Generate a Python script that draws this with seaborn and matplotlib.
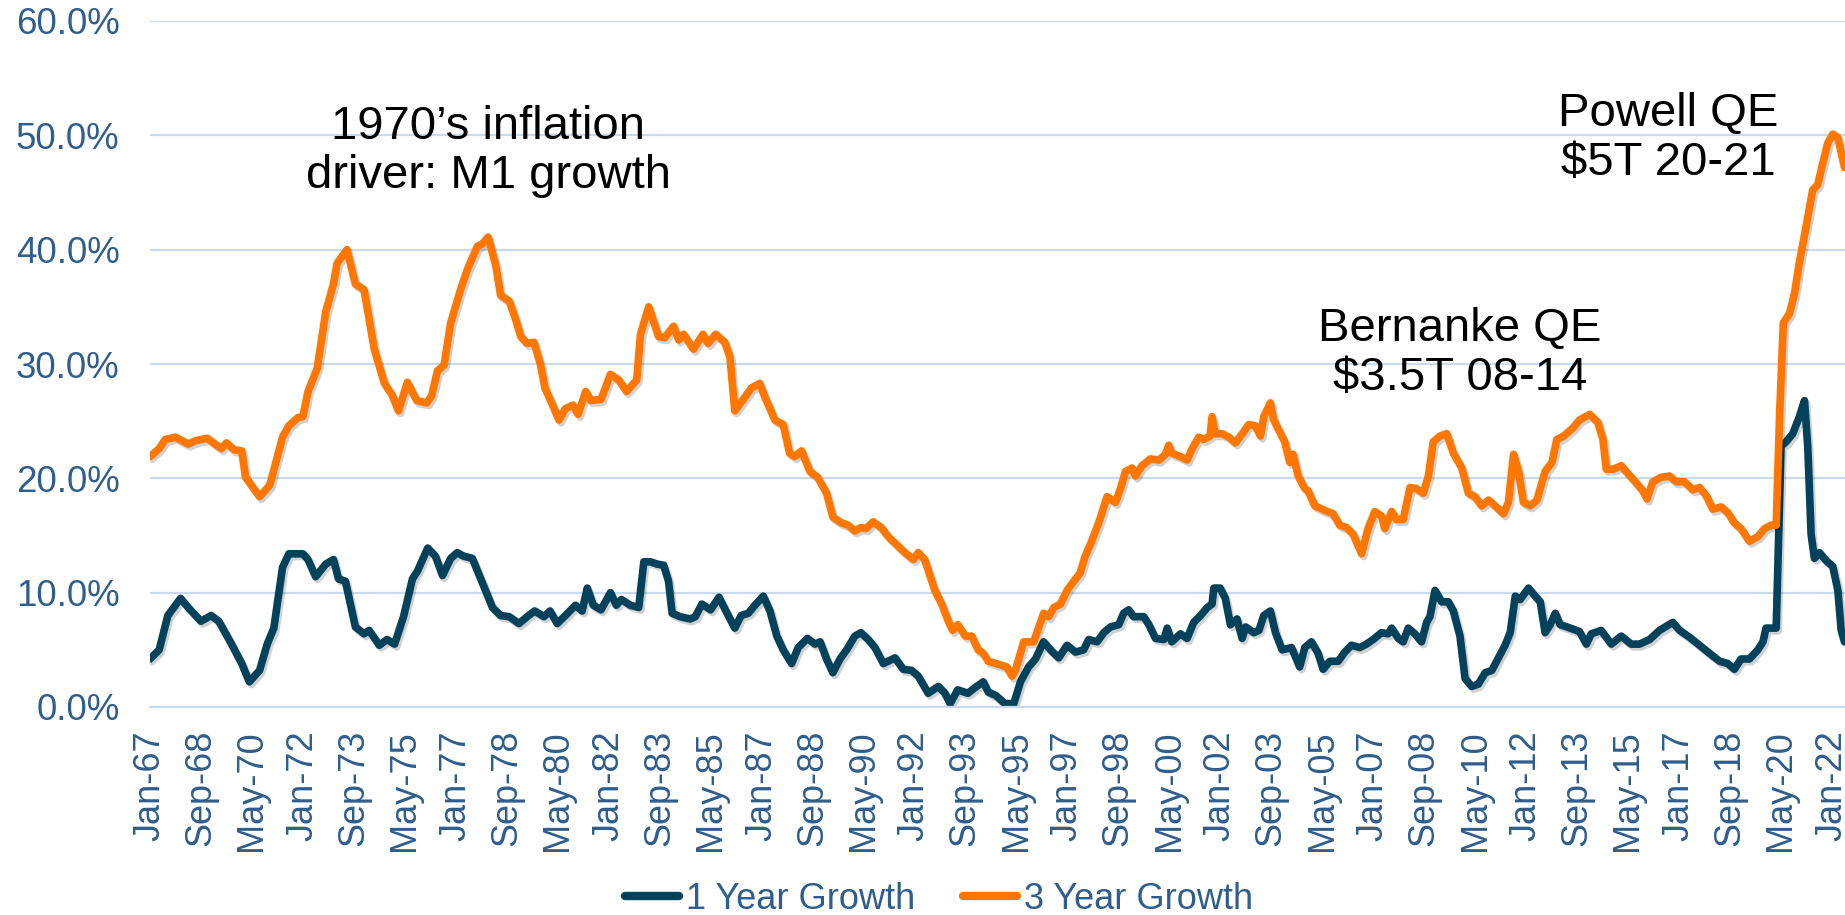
import matplotlib
matplotlib.use('Agg')
import matplotlib.pyplot as plt
import matplotlib.patheffects as pe
from matplotlib.ticker import FuncFormatter
import seaborn as sns

# months since Jan-67 and M1 growth (%)
months_1y = [0, 3.6, 7, 12, 15, 20, 24, 27, 32, 36, 39, 43, 46, 48.6, 52, 54.5, 60, 62, 65, 69, 72, 74, 76.7, 80.6, 84, 86, 90, 93, 96, 99.5, 103, 105, 109,
             112, 114.8, 118, 120.6, 123, 126.5, 129.8, 134.4, 137.6, 141, 144.8, 148, 151, 154.6, 157, 159.8, 163, 167, 169.6, 171.6, 174, 177, 180.7, 183, 185, 188.5, 191.8, 193.8, 196.4, 199, 201.6, 203.5, 204.9, 208, 212, 214, 216.6, 220,
             223.3, 226, 229.5, 232, 234.8, 237.4, 240.7, 243.3, 246, 248.5, 251.8, 254.4, 258, 261, 263, 265.5, 268, 270.8, 273.4, 276.6, 279, 281.9, 284.5, 287.8, 292.4, 295.6, 298.9, 301.5, 305.4, 309.4, 312, 314, 317, 321, 323.8, 327, 329, 332, 335.5,
             339, 341.6, 344.8, 347.5, 350.7, 353.4, 356.6, 359.9, 363.2, 366.4, 368.4, 371.7, 374.3, 376.9, 380.2, 382.1, 384.1, 386, 390, 392, 394.6, 397.9, 399.2, 401, 404.4, 407, 409.6, 412.3, 414.9, 416.8, 417.5, 420, 422, 424, 426.6, 428.6, 430, 433.2, 435.2, 437.1, 439.7, 441.7, 444.3,
             448, 451.2, 453.2, 455.8, 458.4, 460.4, 463, 466.3, 468.9, 471.5, 474.8, 477.4, 480, 483.3, 485.9, 487.3, 489.9, 491.8, 493.8, 496.4, 499, 501, 502.3, 504.3, 506.9, 509.5, 511.5, 514.1, 516.1, 518.7, 521.3, 524, 526.6, 529.2, 531.8, 533.8, 535.8, 537.7, 541, 543.6, 545.6, 547.5, 549.5, 551.5, 553.4, 556.1,
             561, 563.7, 565.6, 569.5, 573.5, 577.4, 581.3, 584.6, 588.5, 592.4, 597.6, 600.3, 604.2, 608.1, 612, 616, 619.2, 621.8, 624.4, 627.7, 631, 633, 634.2, 638.2, 640.1, 642.1, 644.7, 647.3, 649.3, 650.6, 651.9, 653.2, 655.2, 657.8, 660.4, 662.4, 663.7, 665]
growth_1y = [4.2, 5.0, 8.0, 9.5, 8.7, 7.5, 8.0, 7.5, 5.5, 3.8, 2.2, 3.2, 5.5, 6.9, 12.2, 13.4, 13.4, 12.9, 11.4, 12.5, 12.9, 11.2, 11.0, 7.0, 6.4, 6.7, 5.4, 5.9, 5.5, 7.9, 11.2, 11.9, 13.9,
             13.2, 11.5, 13.0, 13.5, 13.2, 13.0, 11.2, 8.7, 8.0, 7.9, 7.3, 7.9, 8.4, 7.9, 8.4, 7.3, 8.0, 8.9, 8.4, 10.4, 8.9, 8.5, 10.0, 8.9, 9.4, 8.9, 8.7, 12.7, 12.7, 12.5, 12.4, 11.0, 8.2, 7.9, 7.7, 7.9, 9.0, 8.5,
             9.6, 8.4, 6.9, 8.0, 8.2, 8.9, 9.7, 8.4, 6.2, 5.0, 3.8, 5.2, 6.0, 5.5, 5.7, 4.2, 3.0, 4.2, 5.0, 6.2, 6.5, 5.9, 5.2, 3.8, 4.3, 3.3, 3.2, 2.7, 1.2, 1.8, 1.2, 0.3, 1.5, 1.2, 1.7, 2.2, 1.3, 1.0, 0.3,
             0.3, 2.2, 3.5, 4.2, 5.7, 5.0, 4.3, 5.4, 4.8, 5.0, 5.9, 5.7, 6.5, 7.0, 7.2, 8.2, 8.5, 7.9, 7.9, 7.2, 6.0, 5.9, 6.9, 5.7, 6.4, 6.0, 7.4, 8.0, 8.7, 9.0, 10.4, 10.4, 9.5, 7.2, 7.7, 6.0, 7.0, 6.5, 6.7, 8.0, 8.4, 6.5, 5.0,
             5.2, 3.5, 5.2, 5.7, 4.7, 3.3, 4.0, 4.0, 4.8, 5.4, 5.2, 5.5, 5.9, 6.5, 6.4, 6.9, 6.0, 5.7, 6.9, 6.4, 5.7, 7.4, 7.9, 10.2, 9.2, 9.2, 8.4, 6.2, 2.5, 1.8, 2.0, 3.0, 3.2, 4.3, 5.4, 6.5, 9.7, 9.4, 10.4, 9.7, 9.2, 6.5, 7.2, 8.2, 7.2, 7.0,
             6.6, 5.5, 6.4, 6.7, 5.5, 6.2, 5.5, 5.5, 5.9, 6.7, 7.4, 6.7, 6.1, 5.4, 4.7, 4.0, 3.8, 3.3, 4.2, 4.2, 5.0, 5.7, 6.9, 6.9, 22.8, 23.2, 23.9, 25.4, 26.8, 22.7, 15.1, 13.0, 13.5, 12.8, 12.3, 10.2, 6.7, 5.7]

months_3y = [0, 3.6, 6, 10, 15, 18, 22.5, 28, 30, 33, 36, 37.5, 43, 47, 52, 54.5, 58, 60, 62, 65.6, 69, 72, 73.4, 77.3, 80.6, 84, 88, 92, 95, 97.5, 101, 104.7, 108.6, 110.5,
             112.8, 115.4, 118, 122, 124.6, 128.5, 130.4, 132.7, 135.7, 137.6, 141, 143.5, 145.5, 148, 150.7, 153.3, 155, 158, 160.5, 163, 166, 168, 171, 173, 177, 180.7, 184, 187, 191, 192.5, 195.7, 199.6, 202, 205.5, 207.5, 209.4, 213.3, 217, 219, 222,
             225.6, 227.6, 229.5, 232.8, 236, 239.3, 241.3, 243.3, 245.2, 248.5, 251, 253, 255.7, 259, 262, 265.5, 268, 271.4, 274, 276.6, 279, 281, 283.8, 287, 289.7, 293, 296.3, 299.6, 301.5, 304, 308, 310.7, 313.3, 315, 317, 320, 322.5, 325, 327, 329, 332,
             336.3, 338.3, 339.6, 342.9, 346.8, 350.7, 352.7, 354.7, 357.3, 359.9, 363.2, 365, 367, 369, 372.3, 375.6, 378.9, 381, 382.8, 385.4, 386.7, 389.3, 392.6, 396, 398.5, 399.8, 401, 404.4, 407, 409, 411.6, 413.6, 416, 416.8, 418, 420.8, 423.4, 426, 429.3, 431.2, 433.8, 435.8, 437.1, 439.7, 441, 443.7,
             445.3, 447.3, 448.6, 450.6, 453.2, 454.5, 457.1, 461, 464.3, 466.9, 469.6, 472.2, 475.5, 478, 480.7, 483.3, 484.6, 487.3, 489.2, 491.8, 494.5, 497, 499.7, 501.7, 503.6, 506.3, 508.9, 511.5, 514.8, 517.4, 520, 522.6, 525.3, 527.9, 531.2, 533.1, 535.1, 537.1, 539, 541.7, 544.3, 547.5, 550.2, 552.1, 554.8,
             558.4, 561, 565, 568.2, 570.2, 571.5, 574.1, 577.4, 579.3, 583.3, 585.9, 587.5, 589.8, 593.1, 596.3, 599, 602.2, 605.5, 608.1, 610.7, 613.3, 616.6, 619.2, 621.8, 624.4, 627.7, 631, 633.6, 636.2, 638.2, 639.5, 641, 643.4, 645.4, 647.3, 649.9, 652.5, 654.5, 656.5, 658.4, 660.4, 662.4, 665]
growth_3y = [21.9, 22.6, 23.4, 23.6, 23.0, 23.3, 23.5, 22.6, 23.1, 22.5, 22.4, 20.1, 18.4, 19.4, 23.6, 24.6, 25.3, 25.4, 27.6, 29.6, 34.6, 37.0, 38.8, 40.0, 37.0, 36.5, 31.3, 28.3, 27.3, 25.9, 28.4, 26.8, 26.6, 27.2,
             29.4, 29.9, 33.6, 36.6, 38.3, 40.3, 40.5, 41.1, 38.6, 36.0, 35.5, 33.9, 32.4, 31.8, 31.9, 29.9, 27.9, 26.4, 25.1, 26.1, 26.4, 25.6, 27.6, 26.8, 26.9, 29.1, 28.6, 27.6, 28.6, 32.6, 35.0, 32.4, 32.3, 33.3, 32.1, 32.6, 31.3, 32.6, 31.8, 32.6,
             31.9, 30.6, 25.9, 26.9, 27.9, 28.3, 27.1, 26.1, 25.1, 24.7, 22.2, 21.9, 22.4, 20.6, 20.1, 18.7, 16.6, 16.1, 15.9, 15.4, 15.7, 15.6, 16.2, 15.7, 14.9, 14.2, 13.5, 12.9, 13.5, 12.9, 10.2, 9.0, 7.5, 6.7, 7.2, 6.2, 6.2, 5.0, 4.7, 4.0, 3.8,
             3.5, 2.7, 3.2, 5.7, 5.7, 8.2, 7.9, 8.7, 9.0, 10.2, 11.2, 11.7, 13.2, 14.2, 16.1, 18.4, 17.9, 19.2, 20.6, 20.9, 20.2, 21.1, 21.7, 21.6, 22.1, 22.9, 22.2, 21.9, 21.6, 22.6, 23.6, 23.4, 23.7, 25.4, 23.9, 23.9, 23.6, 23.1, 24.1, 24.7, 24.6, 23.7, 25.4, 26.6, 25.1, 23.9,
             23.2, 21.4, 22.1, 20.2, 19.1, 18.9, 17.6, 17.2, 16.9, 15.9, 15.7, 15.1, 13.4, 15.6, 17.1, 16.7, 15.6, 17.1, 16.4, 16.4, 19.2, 19.1, 18.7, 20.2, 23.2, 23.7, 23.9, 22.2, 20.9, 18.7, 18.4, 17.6, 18.1, 17.6, 16.9, 17.9, 22.1, 20.6, 17.9, 17.6, 18.1, 20.6, 21.4, 23.4, 23.7,
             24.4, 25.1, 25.6, 24.9, 23.4, 20.8, 20.8, 21.1, 20.6, 19.6, 18.9, 18.2, 19.7, 20.1, 20.2, 19.7, 19.7, 19.0, 19.2, 18.5, 17.3, 17.5, 17.0, 16.1, 15.6, 14.5, 14.9, 15.6, 15.9, 15.9, 25.4, 33.6, 34.4, 36.2, 38.9, 42.0, 45.2, 45.7, 47.6, 49.3, 50.1, 49.8, 47.2]

tick_labels = ['Jan-67', 'Sep-68', 'May-70', 'Jan-72', 'Sep-73', 'May-75', 'Jan-77', 'Sep-78', 'May-80', 'Jan-82', 'Sep-83', 'May-85',
               'Jan-87', 'Sep-88', 'May-90', 'Jan-92', 'Sep-93', 'May-95', 'Jan-97', 'Sep-98', 'May-00', 'Jan-02', 'Sep-03', 'May-05',
               'Jan-07', 'Sep-08', 'May-10', 'Jan-12', 'Sep-13', 'May-15', 'Jan-17', 'Sep-18', 'May-20', 'Jan-22']

sns.set_style('white')
plt.rcParams['font.family'] = ['Liberation Sans', 'DejaVu Sans']

label_blue = '#2f5d8c' # axis text colour
grid_blue = '#c8daec'
teal, orange = '#03425a', '#ff7700'

fig = plt.figure(figsize=(18.45, 9.15), dpi=100)
ax = fig.add_axes([150/1845, 1-707/915, 1-150/1845, (707-21)/915])

shadow = [pe.SimpleLineShadow(offset=(1.5, -2), alpha=0.18, shadow_color='black'), pe.Normal()]
sns.lineplot(x=months_1y, y=growth_1y, ax=ax, color=teal, linewidth=5.5, estimator=None, label='1 Year Growth', path_effects=shadow)
sns.lineplot(x=months_3y, y=growth_3y, ax=ax, color=orange, linewidth=5.5, estimator=None, label='3 Year Growth', path_effects=shadow)

ax.set_xlim(0, 665.2)
ax.set_ylim(0, 60)
ax.set_yticks(range(0, 61, 10))
ax.yaxis.set_major_formatter(FuncFormatter(lambda v, _: f'{v:.1f}%'))
ax.set_xticks(range(0, 661, 20))
ax.set_xticklabels(tick_labels, rotation=90)
ax.tick_params(axis='y', length=0, pad=22, labelsize=26.5, labelcolor=label_blue)
ax.tick_params(axis='x', length=7.6, width=1.5, color=grid_blue, pad=9, labelsize=26, labelcolor=label_blue)
ax.grid(axis='y', color=grid_blue, linewidth=1.6)
ax.grid(axis='x', visible=False)
ax.set_axisbelow(True)
for side in ['left', 'right', 'top']:
    ax.spines[side].set_visible(False)
ax.spines['bottom'].set_color(grid_blue)
ax.spines['bottom'].set_linewidth(1.6)
ax.set_xlabel('')
ax.set_ylabel('')

leg = ax.legend(loc='center', bbox_to_anchor=(0.509, 0.017), bbox_transform=fig.transFigure, ncol=2, frameon=False,
                fontsize=26, handlelength=1.48, handletextpad=0.19, columnspacing=1.34, borderpad=0)
for t in leg.get_texts():
    t.set_color(label_blue)
for h in leg.get_lines():
    h.set_path_effects([])
    h.set_linewidth(6)

# annotations (last line baseline placed)
fig.text(488/1845, 1-188/915, '1970\u2019s inflation\ndriver: M1 growth', ha='center', va='baseline', fontsize=34, color='black', linespacing=1.15)
fig.text(1460/1845, 1-390/915, 'Bernanke QE\n$3.5T 08-14', ha='center', va='baseline', fontsize=34, color='black', linespacing=1.15)
fig.text(1668/1845, 1-175/915, 'Powell QE\n$5T 20-21', ha='center', va='baseline', fontsize=34, color='black', linespacing=1.15)

fig.savefig('out.png', dpi=100)
